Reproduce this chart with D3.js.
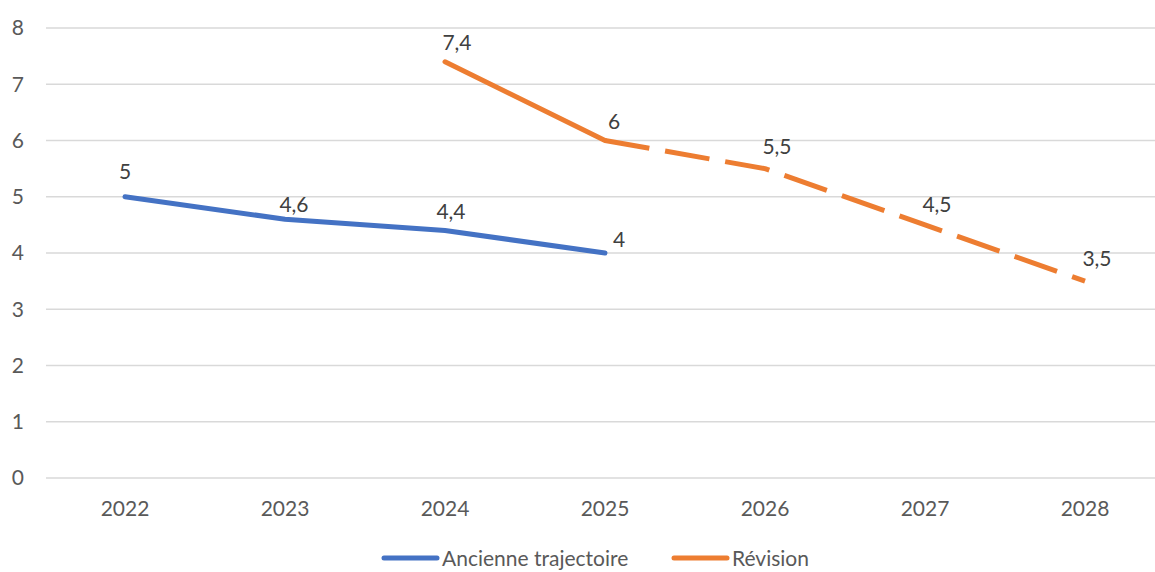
<!DOCTYPE html>
<html lang="fr">
<head>
<meta charset="utf-8">
<script src="https://cdn.jsdelivr.net/npm/d3@7"></script>
<style>
  html, body { margin: 0; padding: 0; background: #fff; }
  svg { display: block; font-family: Lato, "Open Sans", sans-serif; }
</style>
</head>
<body>
<svg id="chart" width="1155" height="572"></svg>
<script>
// Years on the horizontal axis
const years = ["2022", "2023", "2024", "2025", "2026", "2027", "2028"];
// Former trajectory
const ancienne = [5, 4.6, 4.4, 4, null, null, null];
// Revised trajectory
const revision = [null, null, 7.4, 6, 5.5, 4.5, 3.5];
// Revised values from this year on are projections (dashed)
const revisionProjectedFrom = "2025";
const yTicks = [0, 1, 2, 3, 4, 5, 6, 7, 8];
const seriesNames = ["Ancienne trajectoire", "Révision"];

// Value-label nudges (dx, dy in px) per point
const ancienneNudge = [[0, -25], [9, -15], [6, -19], [14, -13], null, null, null];
const revisionNudge = [null, null, [12, -19], [9, -19], [12, -22], [12, -20], [12, -22]];

const colors = { ancienne: "#4472C4", revision: "#ED7D31", grid: "#D9D9D9", text: "#595959" };
const fontSize = 21;

const svg = d3.select("#chart");
const fr = d3.formatLocale({ decimal: ",", thousands: " ", grouping: [3], currency: ["", " €"] });
const fmt = v => fr.format("~g")(v);

const x = d3.scaleBand().domain(years).range([45, 1165]).padding(0);
const cx = d => x(d) + x.bandwidth() / 2;
const y = d3.scaleLinear().domain([0, 8]).range([478, 28]);

// Horizontal gridlines
svg.append("g").selectAll("line").data(yTicks).join("line")
  .attr("x1", 46).attr("x2", 1155)
  .attr("y1", d => y(d)).attr("y2", d => y(d))
  .attr("stroke", colors.grid).attr("stroke-width", 1.3);

// Y axis labels
svg.append("g").selectAll("text").data(yTicks).join("text")
  .attr("x", 24).attr("y", d => y(d)).attr("dy", "0.35em")
  .attr("text-anchor", "end").attr("fill", colors.text).attr("font-size", fontSize)
  .text(d => d);

// X axis labels
svg.append("g").selectAll("text").data(years).join("text")
  .attr("x", d => cx(d)).attr("y", 509).attr("dy", "0.35em")
  .attr("text-anchor", "middle").attr("fill", colors.text).attr("font-size", fontSize)
  .text(d => d);

const line = d3.line().defined(d => d.v != null).x(d => cx(d.year)).y(d => y(d.v));
const pts = arr => years.map((year, i) => ({ year, v: arr[i], i }));

// Former trajectory (solid)
svg.append("path").datum(pts(ancienne))
  .attr("d", line).attr("fill", "none")
  .attr("stroke", colors.ancienne).attr("stroke-width", 5)
  .attr("stroke-linecap", "round").attr("stroke-linejoin", "round");

// Revision: solid up to the projection start, dashed afterwards
const splitIdx = years.indexOf(revisionProjectedFrom);
const revPts = pts(revision);
svg.append("path").datum(revPts.slice(0, splitIdx + 1))
  .attr("d", line).attr("fill", "none")
  .attr("stroke", colors.revision).attr("stroke-width", 5)
  .attr("stroke-linecap", "round").attr("stroke-linejoin", "round");
svg.append("path").datum(revPts.slice(splitIdx))
  .attr("d", line).attr("fill", "none")
  .attr("stroke", colors.revision).attr("stroke-width", 5)
  .attr("stroke-dasharray", "45 16")
  .attr("stroke-linecap", "butt").attr("stroke-linejoin", "round");

// Value labels
function labels(arr, nudge) {
  svg.append("g").selectAll("text")
    .data(pts(arr).filter(d => d.v != null)).join("text")
    .attr("x", d => cx(d.year) + nudge[d.i][0])
    .attr("y", d => y(d.v) + nudge[d.i][1]).attr("dy", "0.35em")
    .attr("text-anchor", "middle").attr("fill", "#404040").attr("font-size", fontSize)
    .text(d => fmt(d.v));
}
labels(ancienne, ancienneNudge);
labels(revision, revisionNudge);

// Legend
const legend = svg.append("g");
const legendItems = [
  { name: seriesNames[0], color: colors.ancienne, x0: 384 },
  { name: seriesNames[1], color: colors.revision, x0: 674 }
];
legendItems.forEach(it => {
  legend.append("line")
    .attr("x1", it.x0).attr("x2", it.x0 + 53).attr("y1", 558).attr("y2", 558)
    .attr("stroke", it.color).attr("stroke-width", 5).attr("stroke-linecap", "round");
  legend.append("text")
    .attr("x", it.x0 + 58).attr("y", 559).attr("dy", "0.35em")
    .attr("fill", colors.text).attr("font-size", fontSize)
    .text(it.name);
});
</script>
</body>
</html>
